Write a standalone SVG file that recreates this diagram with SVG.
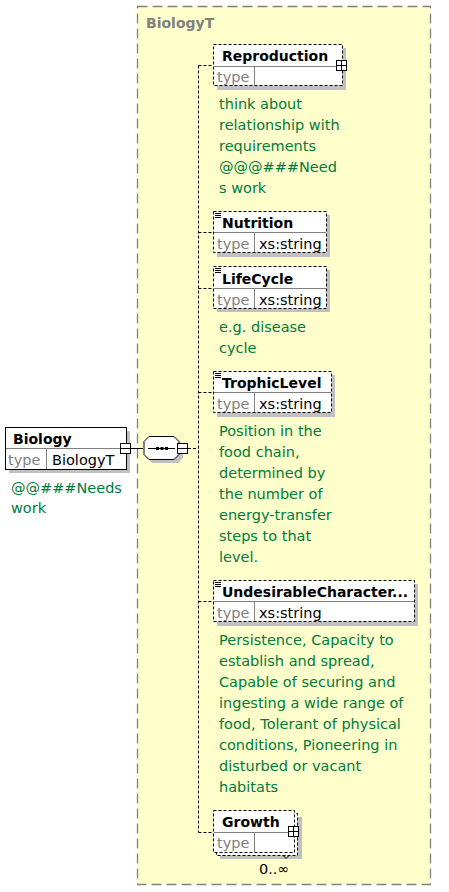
<svg xmlns="http://www.w3.org/2000/svg" width="449" height="892" viewBox="0 0 449 892">
<style>
.frame{fill:#FFFFCC;stroke:#808080;stroke-width:1.3;stroke-dasharray:10,5}
.sh{fill:#C0C0C0}
.box{fill:#FFFFFF;stroke:#000;stroke-width:1}
.opt{fill:#FFFFFF;stroke:#000;stroke-width:1;stroke-dasharray:3,2}
.div{stroke:#808080;stroke-width:1;fill:none}
.hd{font-family:"DejaVu Sans",sans-serif;font-weight:bold;font-size:14px;fill:#000}
.ty{font-family:"DejaVu Sans",sans-serif;font-size:14.5px;fill:#808080}
.tv{font-family:"DejaVu Sans",sans-serif;font-size:14.5px;fill:#000}
.doc{font-family:"DejaVu Sans",sans-serif;font-size:14.5px;fill:#007A3D}
.ttl{font-family:"DejaVu Sans",sans-serif;font-weight:bold;font-size:14px;fill:#808080}
.ln{stroke:#000;stroke-width:1;fill:none}
.dl{stroke:#000;stroke-width:1;fill:none;stroke-dasharray:3,2}
.ic{stroke:#000;stroke-width:1;fill:none}
</style>
<rect class="frame" x="137.5" y="6.5" width="293" height="878"/>
<text class="ttl" x="146" y="28">BiologyT</text>

<g id="connectors">
<line class="ln" x1="131" y1="448.5" x2="143" y2="448.5"/>
<line class="dl" x1="188" y1="448.5" x2="198.5" y2="448.5"/>
<line class="dl" x1="198.5" y1="65.5" x2="198.5" y2="832.5"/>
<line class="dl" x1="198.5" y1="65.5" x2="213" y2="65.5"/>
<line class="dl" x1="198.5" y1="232.5" x2="213" y2="232.5"/>
<line class="dl" x1="198.5" y1="288.5" x2="213" y2="288.5"/>
<line class="dl" x1="198.5" y1="392.5" x2="213" y2="392.5"/>
<line class="dl" x1="198.5" y1="601.5" x2="213" y2="601.5"/>
<line class="dl" x1="198.5" y1="832.5" x2="213" y2="832.5"/>
</g>

<g id="Biology">
<rect class="sh" x="9" y="431" width="121" height="42"/>
<rect class="box" x="5.5" y="427.5" width="121" height="42"/>
<line class="div" x1="6" y1="448.5" x2="126" y2="448.5"/>
<line class="div" x1="46.5" y1="449" x2="46.5" y2="469"/>
<text class="hd" x="13" y="444">Biology</text>
<text class="ty" x="8" y="465">type</text>
<text class="tv" x="52" y="465">BiologyT</text>
<rect class="box" x="120.5" y="443.5" width="10" height="10"/>
<line class="ic" x1="121" y1="448.5" x2="130" y2="448.5"/>
<text class="doc" x="11" y="493">@@###Needs</text>
<text class="doc" x="11" y="513">work</text>
</g>

<g id="sequence">
<polygon class="sh" points="152,440 178,440 183,445 183,458 178,463 152,463 147,458 147,445"/>
<polygon class="box" points="149,436.5 174,436.5 179,441.5 179,454.5 174,459.5 149,459.5 144,454.5 144,441.5"/>
<line class="ln" x1="148" y1="448.5" x2="175" y2="448.5"/>
<rect x="156" y="447" width="3" height="3" fill="#000"/>
<rect x="160.5" y="447" width="3" height="3" fill="#000"/>
<rect x="165" y="447" width="3" height="3" fill="#000"/>
<rect class="box" x="177.5" y="443.5" width="10" height="10"/>
<line class="ic" x1="178" y1="448.5" x2="187" y2="448.5"/>
</g>

<g id="Reproduction">
<rect class="sh" x="217" y="48" width="129" height="42"/>
<rect class="opt" x="213.5" y="44.5" width="129" height="41"/>
<line class="div" x1="214" y1="66.5" x2="342" y2="66.5"/>
<line class="div" x1="254.5" y1="67" x2="254.5" y2="85"/>
<text class="hd" x="222" y="61">Reproduction</text>
<text class="ty" x="217" y="82">type</text>
<rect class="box" x="336.5" y="60.5" width="10" height="10"/>
<line class="ic" x1="337" y1="65.5" x2="346" y2="65.5"/>
<line class="ic" x1="341.5" y1="61" x2="341.5" y2="70"/>
<text class="doc" x="219" y="109">think about</text>
<text class="doc" x="219" y="130">relationship with</text>
<text class="doc" x="219" y="151">requirements</text>
<text class="doc" x="219" y="172">@@@###Need</text>
<text class="doc" x="219" y="193">s work</text>
</g>

<g id="Nutrition">
<rect class="sh" x="217" y="215" width="113" height="42"/>
<rect class="opt" x="213.5" y="211.5" width="113" height="41"/>
<line class="div" x1="214" y1="232.5" x2="326" y2="232.5"/>
<line class="div" x1="254.5" y1="233" x2="254.5" y2="252"/>
<path class="ic" d="M215,213.5h6M215,215.5h6M215,217.5h6"/>
<text class="hd" x="222" y="228">Nutrition</text>
<text class="ty" x="217" y="249">type</text>
<text class="tv" x="259" y="249">xs:string</text>
</g>

<g id="LifeCycle">
<rect class="sh" x="217" y="270" width="113" height="42"/>
<rect class="opt" x="213.5" y="266.5" width="113" height="42"/>
<line class="div" x1="214" y1="288.5" x2="326" y2="288.5"/>
<line class="div" x1="254.5" y1="289" x2="254.5" y2="308"/>
<path class="ic" d="M215,268.5h6M215,270.5h6M215,272.5h6"/>
<text class="hd" x="222" y="284">LifeCycle</text>
<text class="ty" x="217" y="305">type</text>
<text class="tv" x="259" y="305">xs:string</text>
<text class="doc" x="219" y="332">e.g. disease</text>
<text class="doc" x="219" y="353">cycle</text>
</g>

<g id="TrophicLevel">
<rect class="sh" x="217" y="375" width="118" height="42"/>
<rect class="opt" x="213.5" y="371.5" width="118" height="41"/>
<line class="div" x1="214" y1="392.5" x2="331" y2="392.5"/>
<line class="div" x1="254.5" y1="393" x2="254.5" y2="412"/>
<path class="ic" d="M215,373.5h6M215,375.5h6M215,377.5h6"/>
<text class="hd" x="222" y="388">TrophicLevel</text>
<text class="ty" x="217" y="409">type</text>
<text class="tv" x="259" y="409">xs:string</text>
<text class="doc" x="219" y="436">Position in the</text>
<text class="doc" x="219" y="457">food chain,</text>
<text class="doc" x="219" y="478">determined by</text>
<text class="doc" x="219" y="499">the number of</text>
<text class="doc" x="219" y="520">energy-transfer</text>
<text class="doc" x="219" y="541">steps to that</text>
<text class="doc" x="219" y="562">level.</text>
</g>

<g id="UndesirableCharacteristics">
<rect class="sh" x="217" y="584" width="201" height="42"/>
<rect class="opt" x="213.5" y="580.5" width="201" height="41"/>
<line class="div" x1="214" y1="601.5" x2="414" y2="601.5"/>
<line class="div" x1="254.5" y1="602" x2="254.5" y2="621"/>
<path class="ic" d="M215,582.5h6M215,584.5h6M215,586.5h6"/>
<text class="hd" x="222" y="597">UndesirableCharacter...</text>
<text class="ty" x="217" y="618">type</text>
<text class="tv" x="259" y="618">xs:string</text>
<text class="doc" x="219" y="645">Persistence, Capacity to</text>
<text class="doc" x="219" y="666">establish and spread,</text>
<text class="doc" x="219" y="687">Capable of securing and</text>
<text class="doc" x="219" y="708">ingesting a wide range of</text>
<text class="doc" x="219" y="729">food, Tolerant of physical</text>
<text class="doc" x="219" y="750">conditions, Pioneering in</text>
<text class="doc" x="219" y="771">disturbed or vacant</text>
<text class="doc" x="219" y="792">habitats</text>
</g>

<g id="Growth">
<rect class="sh" x="220" y="817" width="82" height="42"/>
<rect class="opt" x="216.5" y="813.5" width="81" height="42"/>
<rect class="opt" x="213.5" y="810.5" width="81" height="42"/>
<line class="div" x1="214" y1="832.5" x2="294" y2="832.5"/>
<line class="div" x1="254.5" y1="833" x2="254.5" y2="852"/>
<text class="hd" x="222" y="827">Growth</text>
<text class="ty" x="217" y="848">type</text>
<rect class="box" x="288.5" y="826.5" width="10" height="10"/>
<line class="ic" x1="289" y1="831.5" x2="298" y2="831.5"/>
<line class="ic" x1="293.5" y1="827" x2="293.5" y2="836"/>
<path class="ic" d="M283,855.5l3,3l3,-3"/>
<text class="tv" x="259" y="874" style="font-size:14.5px">0..∞</text>
</g>
</svg>
